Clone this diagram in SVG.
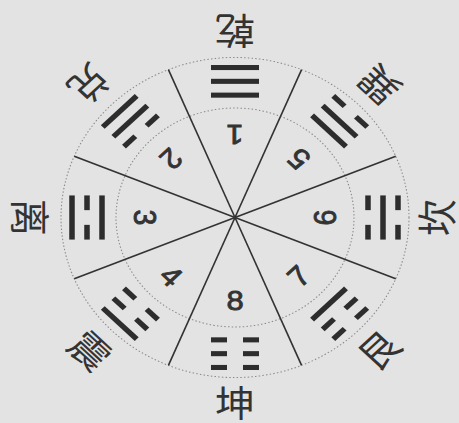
<svg xmlns="http://www.w3.org/2000/svg" xmlns:xlink="http://www.w3.org/1999/xlink" width="459" height="423" viewBox="0 0 459 423">
<style>
.bar{fill:#2d2d2d}
.num{font-family:"Liberation Sans",Arial,sans-serif;font-size:31px;fill:#333;stroke:#333;stroke-width:0.9;text-anchor:middle}
.chr{font-family:"Noto Sans CJK SC","Noto Sans CJK TC",sans-serif;font-size:40px;fill:#333;text-anchor:middle}
.div{stroke:#333;stroke-width:1.6;fill:none}
.dot{stroke:#8a8a8a;stroke-width:1.1;fill:none;stroke-dasharray:1.5 2.2}
</style>
<defs>
<g id="yang"><rect class="bar" x="-24" y="-2.75" width="48" height="5.5"/></g>
<g id="yin"><rect class="bar" x="-24" y="-2.75" width="16" height="5.5"/><rect class="bar" x="8" y="-2.75" width="16" height="5.5"/></g>
</defs>
<rect width="459" height="423" fill="#e3e3e3"/>
<g transform="translate(235,217.5) scale(1,0.92)">
<ellipse class="dot" cx="0" cy="0" rx="174" ry="174"/>
<ellipse class="dot" cx="0" cy="0" rx="119" ry="119"/>
<g id="connectors">
<line class="div" x1="0" y1="0" x2="0" y2="-174" transform="rotate(22.5)"/>
<line class="div" x1="0" y1="0" x2="0" y2="-174" transform="rotate(67.5)"/>
<line class="div" x1="0" y1="0" x2="0" y2="-174" transform="rotate(112.5)"/>
<line class="div" x1="0" y1="0" x2="0" y2="-174" transform="rotate(157.5)"/>
<line class="div" x1="0" y1="0" x2="0" y2="-174" transform="rotate(202.5)"/>
<line class="div" x1="0" y1="0" x2="0" y2="-174" transform="rotate(247.5)"/>
<line class="div" x1="0" y1="0" x2="0" y2="-174" transform="rotate(292.5)"/>
<line class="div" x1="0" y1="0" x2="0" y2="-174" transform="rotate(337.5)"/>
</g>
<g id="qian">
<g transform="rotate(180) translate(0,148)"><use xlink:href="#yang" y="-15"/><use xlink:href="#yang"/><use xlink:href="#yang" y="15"/></g>
<text class="num" transform="rotate(180) translate(0,90)" y="11">1</text>
<text class="chr" transform="rotate(180) translate(0,203)" y="15">乾</text>
</g>
<g id="xun">
<g transform="rotate(225) translate(0,148)"><use xlink:href="#yang" y="-15"/><use xlink:href="#yang"/><use xlink:href="#yin" y="15"/></g>
<text class="num" transform="rotate(225) translate(0,90)" y="11">5</text>
<text class="chr" transform="rotate(225) translate(0,204)" y="15">巽</text>
</g>
<g id="kan">
<g transform="rotate(270) translate(0,148)"><use xlink:href="#yin" y="-15"/><use xlink:href="#yang"/><use xlink:href="#yin" y="15"/></g>
<text class="num" transform="rotate(270) translate(0,90)" y="11">6</text>
<text class="chr" transform="rotate(270) translate(0,202)" y="15">坎</text>
</g>
<g id="gen">
<g transform="rotate(315) translate(0,148)"><use xlink:href="#yang" y="-15"/><use xlink:href="#yin"/><use xlink:href="#yin" y="15"/></g>
<text class="num" transform="rotate(315) translate(0,90)" y="11">7</text>
<text class="chr" transform="rotate(315) translate(0,204)" y="15">艮</text>
</g>
<g id="kun">
<g transform="translate(0,148)"><use xlink:href="#yin" y="-15"/><use xlink:href="#yin"/><use xlink:href="#yin" y="15"/></g>
<text class="num" transform="translate(0,90)" y="11">8</text>
<text class="chr" transform="translate(0,202)" y="15">坤</text>
</g>
<g id="zhen">
<g transform="rotate(45) translate(0,148)"><use xlink:href="#yin" y="-15"/><use xlink:href="#yin"/><use xlink:href="#yang" y="15"/></g>
<text class="num" transform="rotate(45) translate(0,90)" y="11">4</text>
<text class="chr" transform="rotate(45) translate(0,205)" y="15">震</text>
</g>
<g id="li">
<g transform="rotate(90) translate(0,148)"><use xlink:href="#yang" y="-15"/><use xlink:href="#yin"/><use xlink:href="#yang" y="15"/></g>
<text class="num" transform="rotate(90) translate(0,90)" y="11">3</text>
<text class="chr" transform="rotate(90) translate(0,205)" y="15">离</text>
</g>
<g id="dui">
<g transform="rotate(135) translate(0,148)"><use xlink:href="#yin" y="-15"/><use xlink:href="#yang"/><use xlink:href="#yang" y="15"/></g>
<text class="num" transform="rotate(135) translate(0,90)" y="11">2</text>
<text class="chr" transform="rotate(135) translate(0,206)" y="15">兑</text>
</g>
</g>
</svg>
